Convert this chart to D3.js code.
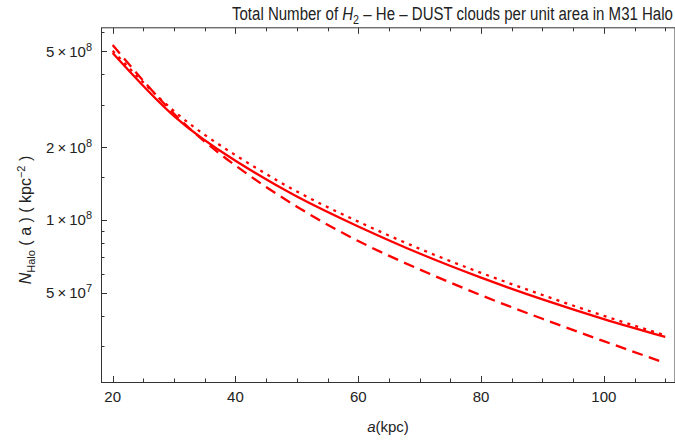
<!DOCTYPE html>
<html>
<head>
<meta charset="utf-8">
<script src="https://cdn.jsdelivr.net/npm/d3@7"></script>
<style>
  body { margin: 0; background: #fff; }
  text { font-family: "Liberation Sans", Arial, sans-serif; fill: #222; }
</style>
</head>
<body>
<svg id="chart" width="675" height="444"></svg>
<script>
// radius a in kpc
const aVals = [20, 30, 40, 50, 60, 70, 80, 90, 100, 110];

// clouds per kpc^2
const solidVals = [4.91e8, 2.69e8, 1.758e8, 1.25e8, 9.40e7, 7.26e7, 5.77e7, 4.69e7, 3.89e7, 3.28e7];
const dottedVals = [5.01e8, 2.82e8, 1.854e8, 1.312e8, 9.84e7, 7.60e7, 6.04e7, 4.89e7, 4.01e7, 3.33e7];
const dashedVals = [5.30e8, 2.75e8, 1.68e8, 1.135e8, 8.18e7, 6.24e7, 4.88e7, 3.90e7, 3.15e7, 2.56e7];

const xMajor = [20, 40, 60, 80, 100];
const xMinor = [25, 30, 35, 45, 50, 55, 65, 70, 75, 85, 90, 95, 105, 110];
const yMajor = [[5, 7], [1, 8], [2, 8], [5, 8]];
const yMinor = [3e7, 4e7, 6e7, 7e7, 8e7, 9e7, 1.5e8, 3e8, 4e8, 6e8];

const svg = d3.select("#chart");

const mLeft = 101, mTop = 27.3, mBottom = 382;

const x = d3.scaleLinear().domain([18.1, 111.8]).range([mLeft, mLeft + 93.7 * 6.14]);
const y = d3.scaleLog().domain([2.135e7, 6.27e8]).range([mBottom, mTop]);

const frame = svg.append("g").attr("stroke", "#333").attr("stroke-width", 1).attr("fill", "none");
frame.append("rect")
  .attr("x", mLeft + 0.5).attr("y", mTop + 0.5)
  .attr("width", 674.5 - mLeft).attr("height", mBottom - mTop);

// x ticks, bottom and top, pointing inward
const xt = svg.append("g").attr("stroke", "#333").attr("stroke-width", 1);
[[xMajor, 6], [xMinor, 3.5]].forEach(([vals, len]) => {
  vals.forEach(v => {
    const px = Math.round(x(v)) + 0.5;
    xt.append("line").attr("x1", px).attr("x2", px).attr("y1", mBottom).attr("y2", mBottom - len);
    xt.append("line").attr("x1", px).attr("x2", px).attr("y1", mTop + 0.5).attr("y2", mTop + 0.5 + len);
  });
});

svg.append("g").selectAll("text")
  .data(xMajor)
  .join("text")
  .attr("x", d => x(d))
  .attr("y", mBottom + 20)
  .attr("text-anchor", "middle")
  .attr("font-size", 15)
  .text(d => d);

// y ticks
const yt = svg.append("g").attr("stroke", "#333").attr("stroke-width", 1);
yMajor.forEach(([m, e]) => {
  const py = Math.round(y(m * Math.pow(10, e))) + 0.5;
  yt.append("line").attr("x1", mLeft).attr("x2", mLeft + 6).attr("y1", py).attr("y2", py);
});
yMinor.forEach(v => {
  const py = Math.round(y(v)) + 0.5;
  yt.append("line").attr("x1", mLeft).attr("x2", mLeft + 3.5).attr("y1", py).attr("y2", py);
});

const yl = svg.append("g").selectAll("text")
  .data(yMajor)
  .join("text")
  .attr("x", mLeft - 9)
  .attr("y", d => y(d[0] * Math.pow(10, d[1])) + 5.5)
  .attr("text-anchor", "end")
  .attr("font-size", 15);
yl.append("tspan").text(d => d[0] + "\u2009\u00d7\u200910");
yl.append("tspan").attr("dy", -6).attr("font-size", 11).text(d => d[1]);

// curves
const line = vals => d3.line()
  .x((d, i) => x(aVals[i]))
  .y(d => y(d))
  .curve(d3.curveNatural)(vals);

const curves = svg.append("g").attr("fill", "none").attr("stroke", "#ff0000").attr("stroke-width", 2.3);
curves.append("path").attr("d", line(solidVals));
curves.append("path").attr("d", line(dottedVals)).attr("stroke-dasharray", "3,5.3");
curves.append("path").attr("d", line(dashedVals)).attr("stroke-dasharray", "11,6.5");

// axis labels
const xlab = svg.append("text")
  .attr("x", (mLeft + 675) / 2)
  .attr("y", 432)
  .attr("text-anchor", "middle")
  .attr("font-size", 15);
xlab.append("tspan").attr("font-style", "italic").text("a");
xlab.append("tspan").text("(kpc)");

const ylab = svg.append("text")
  .attr("transform", "translate(31,220) rotate(-90)")
  .attr("text-anchor", "middle")
  .attr("font-size", 16);
ylab.append("tspan").attr("font-style", "italic").text("N");
ylab.append("tspan").attr("font-size", 11).attr("dy", 4).text("Halo");
ylab.append("tspan").attr("dy", -4).text(" ( a ) ( kpc");
ylab.append("tspan").attr("font-size", 11).attr("dy", -6).text("\u22122");
ylab.append("tspan").attr("dy", 6).text(" )");

// title, squeezed horizontally to the reference width
const title = svg.append("text")
  .attr("font-size", 18);
title.append("tspan").text("Total Number of ");
title.append("tspan").attr("font-style", "italic").text("H");
title.append("tspan").attr("font-size", 13).attr("dy", 4).text("2");
title.append("tspan").attr("dy", -4).text(" \u2013 He \u2013 DUST clouds per unit area in M31 Halo");
const tw = title.node().getBBox().width;
title.attr("transform", `translate(232,20) scale(${441 / tw},1)`);
</script>
</body>
</html>
